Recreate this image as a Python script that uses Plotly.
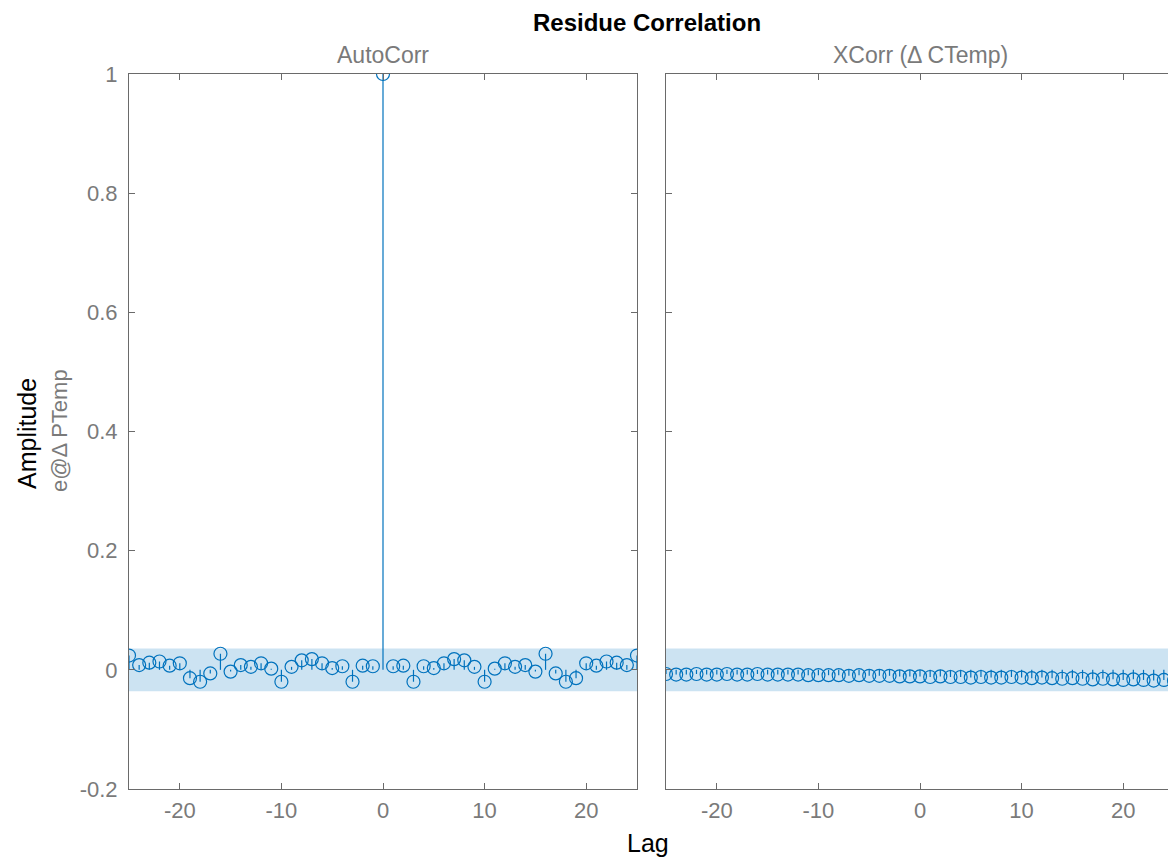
import plotly.graph_objects as go

lags = list(range(-25, 26))
# autocorrelation for lags 1..25 (symmetric about lag 0)
auto_pos = [0.006, 0.007, -0.020, 0.006, 0.003, 0.011, 0.018, 0.016, 0.005, -0.020,
            0.002, 0.011, 0.005, 0.008, -0.003, 0.027, -0.006, -0.020, -0.014, 0.011,
            0.007, 0.014, 0.012, 0.008, 0.024]
auto_corr = auto_pos[::-1] + [1.0] + auto_pos
xcorr = [-0.007, -0.008, -0.008, -0.007, -0.008, -0.008, -0.007, -0.008, -0.008, -0.007,
         -0.008, -0.008, -0.008, -0.008, -0.009, -0.009, -0.009, -0.009, -0.010, -0.009,
         -0.010, -0.010, -0.010, -0.011, -0.011, -0.011, -0.012, -0.011, -0.012, -0.012,
         -0.013, -0.012, -0.013, -0.013, -0.012, -0.013, -0.014, -0.013, -0.014, -0.015,
         -0.014, -0.015, -0.016, -0.015, -0.016, -0.017, -0.016, -0.017, -0.018, -0.017,
         -0.018]
conf = 0.036
yticks = [-0.2, 0, 0.2, 0.4, 0.6, 0.8, 1]
ytick_text = ["-0.2", "0", "0.2", "0.4", "0.6", "0.8", "1"]
xticks = [-20, -10, 0, 10, 20]
xtick_text = ["-20", "-10", "0", "10", "20"]

BLUE = "#0072BD"
BAND = "rgba(0,114,189,0.2)"
GRAY = "#7a7a7a"
AXC = "#6a6a6a"
FONT = "Liberation Sans, Arial, sans-serif"

W, H = 1176, 861
OFF = 8  # page body margin


def px(x):
    return (x - OFF) / W


def py(y):
    return 1 - (y - OFF) / H


fig = go.Figure()


def add_panel(vals, xa, ya):
    # confidence band
    fig.add_trace(go.Scatter(x=[lags[0], lags[-1], lags[-1], lags[0], lags[0]],
                             y=[conf, conf, -conf, -conf, conf],
                             fill="toself", fillcolor=BAND, mode="lines",
                             line=dict(width=0), hoverinfo="skip",
                             xaxis=xa, yaxis=ya, showlegend=False))
    sx, sy = [], []
    for l, v in zip(lags, vals):
        sx += [l, l, None]
        sy += [0, v, None]
    fig.add_trace(go.Scatter(x=sx, y=sy, mode="lines", line=dict(color=BLUE, width=1.2),
                             xaxis=xa, yaxis=ya, showlegend=False))
    fig.add_trace(go.Scatter(x=lags, y=vals, mode="markers",
                             marker=dict(symbol="circle-open", size=13, color=BLUE,
                                         line=dict(width=1.2, color=BLUE)),
                             xaxis=xa, yaxis=ya, showlegend=False))


add_panel(auto_corr, "x", "y")
add_panel(xcorr, "x2", "y2")

ydom = [py(789), py(74)]
common_x = dict(range=[-25, 25], tickvals=xticks, ticktext=xtick_text, ticks="inside",
                ticklen=6, tickcolor=AXC, showline=True, linecolor=AXC, linewidth=1,
                mirror="ticks", showgrid=False, zeroline=False, automargin=False,
                ticklabelstandoff=2,
                tickfont=dict(family=FONT, size=22, color=GRAY))
common_y = dict(range=[-0.2, 1], tickvals=yticks, ticks="inside", ticklen=6,
                tickcolor=AXC, showline=True, linecolor=AXC, linewidth=1,
                mirror="ticks", showgrid=False, zeroline=False, domain=ydom,
                automargin=False, ticklabelstandoff=6,
                tickfont=dict(family=FONT, size=22, color=GRAY))

fig.update_layout(
    template="none",
    width=W, height=H, autosize=False,
    margin=dict(l=0, r=0, t=0, b=0, pad=0),
    paper_bgcolor="white", plot_bgcolor="white",
    xaxis=dict(domain=[px(129), px(637)], anchor="y", **common_x),
    xaxis2=dict(domain=[px(666), px(1174)], anchor="y2", **common_x),
    yaxis=dict(anchor="x", ticktext=ytick_text, **common_y),
    yaxis2=dict(anchor="x2", showticklabels=False, **common_y),
    font=dict(family=FONT),
)

anns = [
    dict(text="<b>Residue Correlation</b>", x=px(647), y=1.0, yanchor="top",
         borderpad=0, font=dict(size=24, color="black")),
    dict(text="AutoCorr", x=px(383), y=py(55), font=dict(size=23, color=GRAY)),
    dict(text="XCorr (Δ CTemp)", x=px(920), y=py(55), font=dict(size=23, color=GRAY)),
    dict(text="Lag", x=px(648), y=py(843), font=dict(size=25, color="black")),
    dict(text="Amplitude", x=px(27), y=py(434), textangle=-90,
         font=dict(size=25, color="black")),
    dict(text="e@Δ PTemp", x=px(60), y=py(431), textangle=-90,
         font=dict(size=22, color=GRAY)),
]
for a in anns:
    a.setdefault("yanchor", "middle")
    fig.add_annotation(xref="paper", yref="paper", showarrow=False,
                       xanchor="center", font_family=FONT, **a)

fig.write_html("out.html")
